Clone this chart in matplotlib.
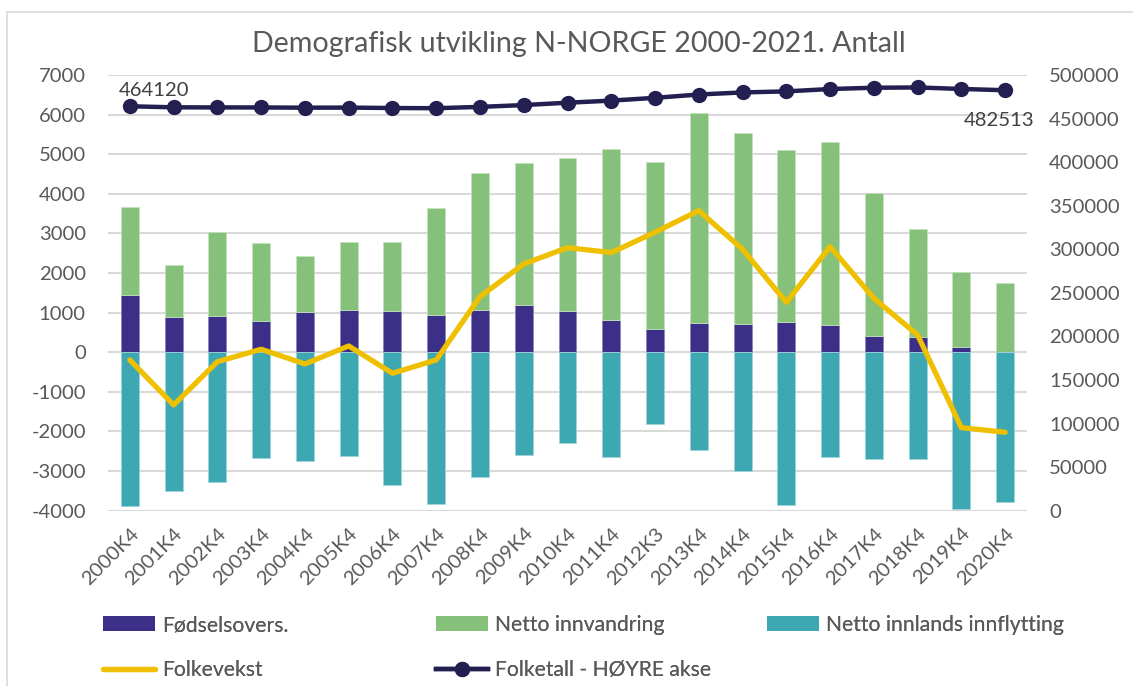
import matplotlib
matplotlib.use("Agg")
import matplotlib.pyplot as plt
from matplotlib.patches import Patch, Rectangle
from matplotlib.lines import Line2D
import numpy as np

plt.rcParams['font.family'] = ['Lato', 'DejaVu Sans']

# ---- data -------------------------------------------------------------
periods = ["2000K4", "2001K4", "2002K4", "2003K4", "2004K4", "2005K4", "2006K4",
           "2007K4", "2008K4", "2009K4", "2010K4", "2011K4", "2012K3", "2013K4",
           "2014K4", "2015K4", "2016K4", "2017K4", "2018K4", "2019K4", "2020K4"]

fodselsovers = [1450, 900, 915, 790, 1020, 1060, 1050, 950, 1075, 1195, 1035,
                825, 590, 740, 720, 775, 690, 410, 395, 135, 0]
netto_innvandring = [2230, 1305, 2130, 1970, 1415, 1730, 1740, 2695, 3460, 3580,
                     3870, 4310, 4220, 5305, 4810, 4335, 4615, 3610, 2720, 1900, 1760]
netto_innlands = [-3880, -3510, -3285, -2675, -2755, -2625, -3350, -3830, -3140,
                  -2595, -2290, -2645, -1820, -2460, -3005, -3855, -2650, -2685,
                  -2705, -3955, -3770]
folkevekst = [-195, -1330, -237, 76, -295, 159, -530, -194, 1404, 2230, 2642,
              2516, 3030, 3576, 2601, 1262, 2667, 1363, 437, -1903, -2020]
folketall = [464120, 462900, 462800, 462750, 462500, 462600, 462100, 461900,
             463400, 465500, 468200, 470600, 473800, 477600, 480000, 481200,
             483900, 485400, 485700, 484000, 482513]

left_ticks = list(range(-4000, 7001, 1000))
right_ticks = list(range(0, 500001, 50000))

# ---- style ------------------------------------------------------------
C_FODS = "#3B2F87"
C_INNV = "#85C17A"
C_INNL = "#3EA8B2"
C_VEKST = "#EEC000"
C_TALL = "#231F50"
C_TEXT = "#595959"
C_GRID = "#D9D9D9"
FS = 14.6

fig = plt.figure(figsize=(11.33, 6.86), dpi=100)
W, H = 1133, 686

# chart-area frame
fig.patches.append(Rectangle((7 / W, -0.05), 1.2, 1 - 12 / H + 0.05,
                             transform=fig.transFigure, fill=False,
                             edgecolor="#D9D9D9", linewidth=1.2))

ax = fig.add_axes([108 / W, 1 - 510.7 / H, (1027 - 108) / W, (510.7 - 75) / H])
x = np.arange(len(periods))
bw = 0.41

ax.bar(x, fodselsovers, bw, color=C_FODS, edgecolor="#8C84BF", linewidth=0.6, zorder=3)
ax.bar(x, netto_innvandring, bw, bottom=fodselsovers, color=C_INNV,
       edgecolor="#C3E2BC", linewidth=0.6, zorder=3)
ax.bar(x, netto_innlands, bw, color=C_INNL, edgecolor="#9FD5DA", linewidth=0.6, zorder=3)
ax.plot(x, folkevekst, color=C_VEKST, linewidth=3.8, solid_joinstyle="round",
        solid_capstyle="round", zorder=4)

ax.set_xlim(-0.5, len(periods) - 0.5)
ax.set_ylim(-4000, 7000)
ax.set_yticks(left_ticks)
ax.set_yticklabels([str(v) for v in left_ticks])
ax.set_xticks(x)
ax.set_xticklabels(periods, rotation=45, ha="right", rotation_mode="anchor")
ax.grid(axis="y", color=C_GRID, linewidth=1.5, zorder=0)
ax.set_axisbelow(True)
for s in ax.spines.values():
    s.set_visible(False)
ax.tick_params(axis="y", length=0, pad=16, labelsize=FS, labelcolor=C_TEXT)
ax.tick_params(axis="x", length=0, pad=10, labelsize=FS, labelcolor=C_TEXT)

ax2 = ax.twinx()
ax2.plot(x, folketall, color=C_TALL, linewidth=3.2, marker="o", markersize=10,
         zorder=5)
ax2.set_ylim(0, 500000)
ax2.set_yticks(right_ticks)
ax2.set_yticklabels([str(v) for v in right_ticks])
for s in ax2.spines.values():
    s.set_visible(False)
ax2.tick_params(axis="y", length=0, pad=16, labelsize=FS, labelcolor=C_TEXT)

ax2.annotate(str(folketall[0]), (x[0], folketall[0]), xytext=(-8, 5),
             textcoords="offset points", ha="left", va="bottom",
             fontsize=FS, color="#404040")
ax2.annotate(str(folketall[-1]), (x[-1], folketall[-1]), xytext=(-4, -16),
             textcoords="offset points", ha="center", va="top",
             fontsize=FS, color="#404040")

fig.text(579 / W, 1 - 44 / H, "Demografisk utvikling N-NORGE 2000-2021. Antall",
         ha="center", va="center", fontsize=20.6, color=C_TEXT)

# ---- legend (three columns placed by hand) ----------------------------
h_fods = Patch(facecolor=C_FODS)
h_innv = Patch(facecolor=C_INNV)
h_innl = Patch(facecolor=C_INNL)
h_vekst = Line2D([], [], color=C_VEKST, linewidth=3.8, solid_capstyle="round")
h_tall = Line2D([], [], color=C_TALL, linewidth=3.2, marker="o", markersize=10)

LFS = 15.2
leg_kw = dict(loc="upper left", frameon=False, fontsize=LFS, labelcolor=C_TEXT,
              handlelength=2.45, handleheight=0.7, handletextpad=0.33,
              labelspacing=1.2, borderpad=0, borderaxespad=0)
cols = [
    ([h_fods, h_vekst], ["Fødselsovers.", "Folkevekst"], 103),
    ([h_innv, h_tall], ["Netto innvandring", "Folketall - HØYRE akse"], 436),
    ([h_innl], ["Netto innlands innflytting"], 767),
]
for handles, labels, xpix in cols:
    leg = fig.legend(handles, labels, bbox_to_anchor=(xpix / W, 1 - 615 / H),
                     **leg_kw)
    fig.add_artist(leg)

fig.savefig("out.png", dpi=100, facecolor="white")
